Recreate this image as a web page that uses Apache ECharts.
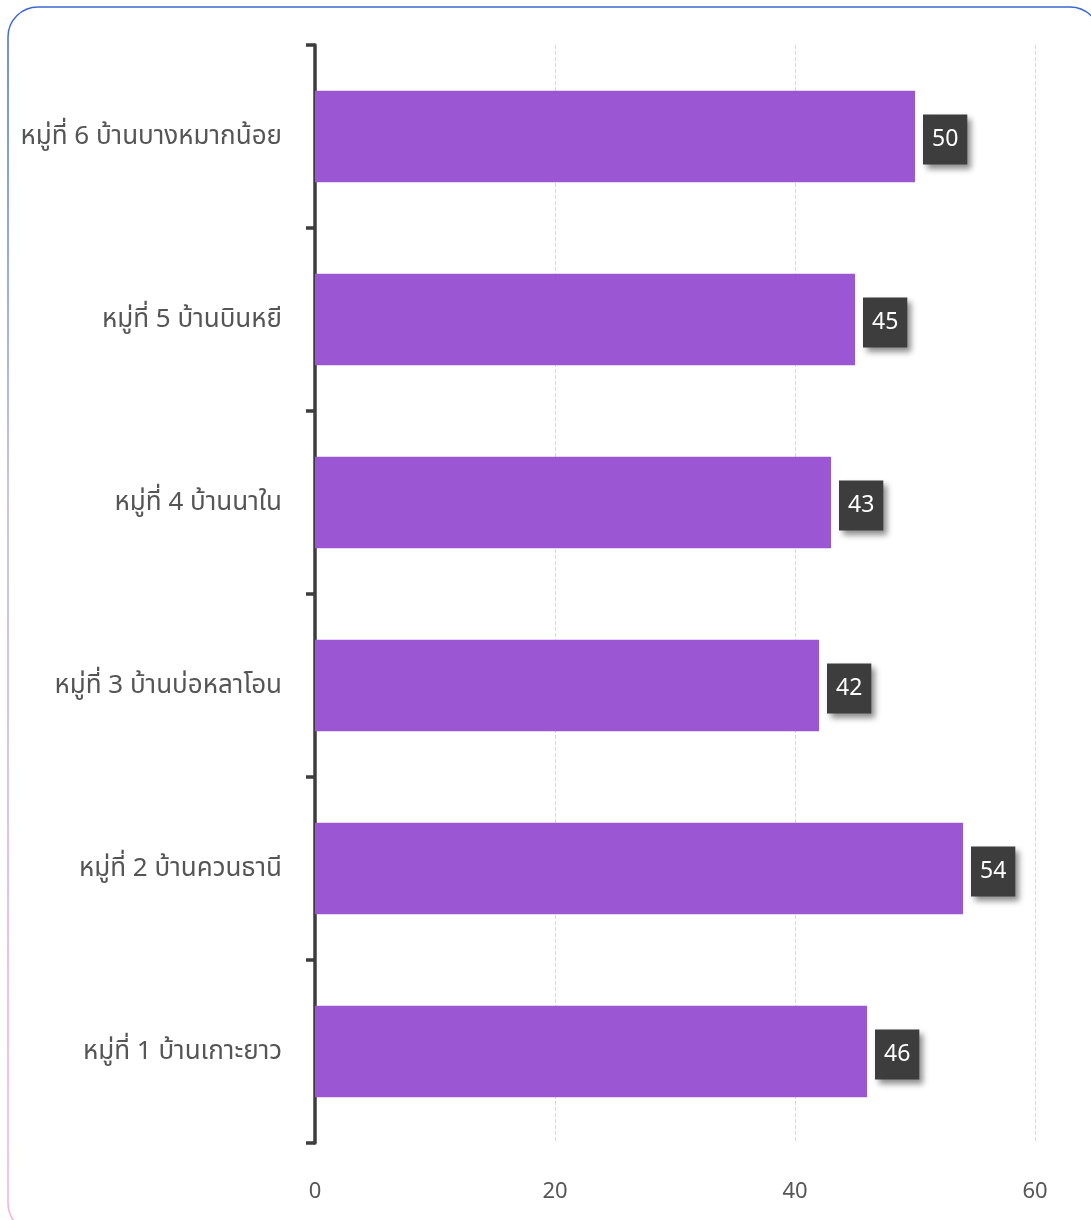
<!DOCTYPE html>
<html>
<head>
<meta charset="utf-8">
<script src="https://cdn.jsdelivr.net/npm/echarts@6/dist/echarts.min.js"></script>
<style>
html,body{margin:0;padding:0;background:#fff;}
#chart{width:1091px;height:1220px;}
</style>
</head>
<body>
<div id="chart"></div>
<script>
const categories = ['หมู่ที่ 1 บ้านเกาะยาว','หมู่ที่ 2 บ้านควนธานี','หมู่ที่ 3 บ้านบ่อหลาโอน','หมู่ที่ 4 บ้านนาใน','หมู่ที่ 5 บ้านบินหยี','หมู่ที่ 6 บ้านบางหมากน้อย'];
const values = [46, 54, 42, 43, 45, 50];
const xTicks = [0, 20, 40, 60];

const FONT = '"Noto Sans", "Noto Sans Thai", "Open Sans", sans-serif';
const chart = echarts.init(document.getElementById('chart'));
chart.setOption({
  animation: false,
  backgroundColor: '#fff',
  graphic: [{
    type: 'rect', z: 0, silent: true,
    shape: {x: 8, y: 7, width: 1092, height: 1226, r: 30},
    style: {
      fill: 'transparent', lineWidth: 1.5,
      stroke: {type: 'linear', x: 0, y: 0, x2: 0, y2: 1, colorStops: [
        {offset: 0, color: '#3a68cf'}, {offset: 0.4, color: '#b3b0ec'}, {offset: 1, color: '#f9b0de'}
      ]}
    }
  }],
  grid: {left: 315, right: 56, top: 45, bottom: 77, containLabel: false},
  xAxis: {
    type: 'value', min: xTicks[0], max: xTicks[xTicks.length - 1], interval: 20,
    axisLine: {show: false}, axisTick: {show: false},
    axisLabel: {color: '#555', fontSize: 22, margin: 38, fontFamily: FONT},
    splitLine: {show: true, lineStyle: {color: '#d9d9d9', type: 'dashed', width: 1}},
  },
  yAxis: {
    type: 'category', data: categories,
    axisLine: {show: true, lineStyle: {color: '#3d3d3d', width: 3.5}},
    axisTick: {show: true, length: 9, lineStyle: {color: '#3d3d3d', width: 3.5}},
    axisLabel: {color: '#555', fontSize: 26, margin: 33, fontFamily: FONT, padding: [10, 0, 0, 0]},
    splitLine: {show: false}
  },
  series: [{
    type: 'bar', data: values, barWidth: '50%',
    itemStyle: {color: '#9b57d3'},
    label: {
      show: true, position: 'right', distance: 8,
      color: '#fff', fontSize: 23, fontFamily: FONT, offset: [0, 3],
      backgroundColor: '#3d3d3d', padding: [14, 9, 13, 9],
      shadowColor: 'rgba(0,0,0,0.45)', shadowBlur: 6, shadowOffsetX: 4, shadowOffsetY: 4
    }
  }]
});
</script>
</body>
</html>
